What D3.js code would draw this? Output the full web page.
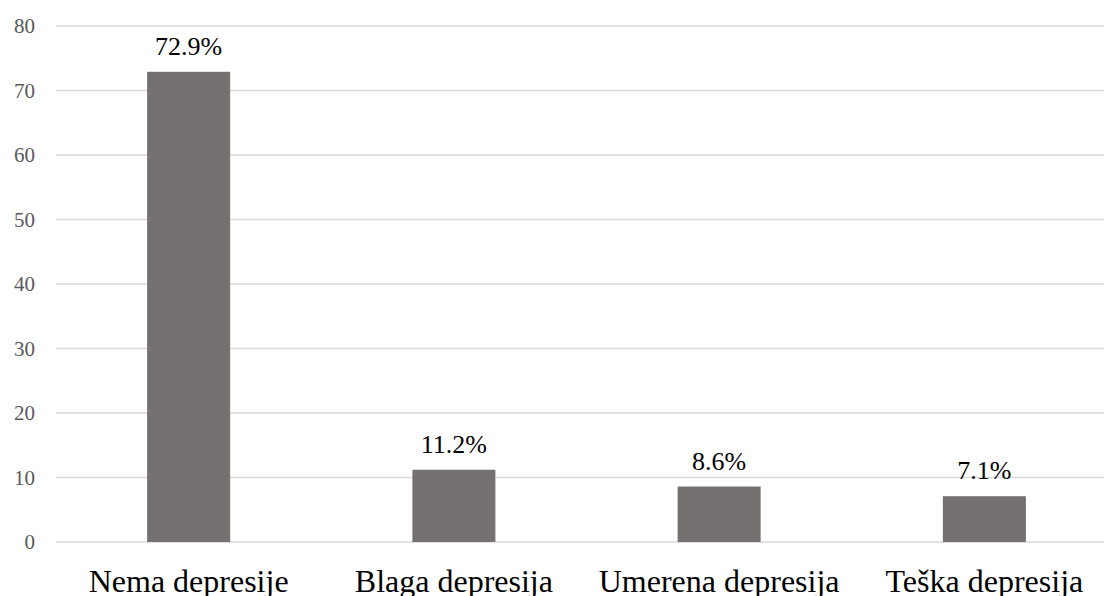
<!DOCTYPE html>
<html><head><meta charset="utf-8">
<script src="https://cdn.jsdelivr.net/npm/d3@7"></script>
<style>body{margin:0;background:#fff}</style>
</head><body>
<svg id="c" width="1104" height="596"></svg>
<script>
const categories = ["Nema depresije", "Blaga depresija", "Umerena depresija", "Teška depresija"];
const values = [72.9, 11.2, 8.6, 7.1];
const valueLabels = ["72.9%", "11.2%", "8.6%", "7.1%"];
const yTicks = [0, 10, 20, 30, 40, 50, 60, 70, 80];

(function () {
const svg = d3.select("#c");
const mLeft = 56, mRight = 1117, mTop = 26, mBottom = 542;
const x = d3.scaleBand().domain(categories).range([mLeft, mRight]).paddingInner(0.687).paddingOuter(0.3435);
const y = d3.scaleLinear().domain([0, 80]).range([mBottom, mTop]);
const font = "Liberation Serif, Times New Roman, serif";

// gridlines
svg.append("g").selectAll("line").data(yTicks).join("line")
  .attr("x1", mLeft).attr("x2", 1104)
  .attr("y1", d => y(d)).attr("y2", d => y(d))
  .attr("stroke", "#d9d9d9").attr("stroke-width", 1.4);

// y axis tick labels
const yAxis = d3.axisLeft(y).tickValues(yTicks).tickSize(0).tickPadding(0);
const ga = svg.append("g").attr("transform", `translate(35,0)`).call(yAxis);
ga.select(".domain").remove();
ga.selectAll("text").style("font-family", font).style("font-size", "21px").attr("fill", "#595959");

// bars
svg.append("g").selectAll("rect").data(values).join("rect")
  .attr("x", (d, i) => x(categories[i]))
  .attr("width", x.bandwidth())
  .attr("y", d => y(d))
  .attr("height", d => y(0) - y(d))
  .attr("fill", "#767171");

// value labels
svg.append("g").selectAll("text").data(values).join("text")
  .attr("x", (d, i) => x(categories[i]) + x.bandwidth() / 2)
  .attr("y", d => y(d) - 17)
  .attr("text-anchor", "middle")
  .style("font-family", font).style("font-size", "26px").attr("fill", "#000")
  .text((d, i) => valueLabels[i]);

// x axis labels
const xAxis = d3.axisBottom(x).tickSize(0).tickPadding(0);
const gx = svg.append("g").attr("transform", `translate(0,${mBottom})`).call(xAxis);
gx.select(".domain").remove();
gx.selectAll("text").attr("dy", null).attr("y", 50)
  .style("font-family", font).style("font-size", "32px").attr("fill", "#000");
})();
</script>
</body></html>
